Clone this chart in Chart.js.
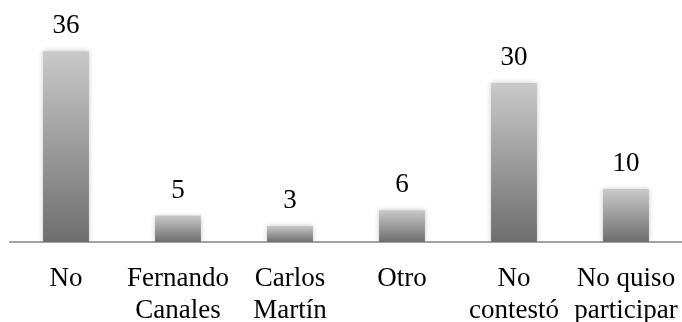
<!DOCTYPE html>
<html>
<head>
<meta charset="utf-8">
<script src="https://cdn.jsdelivr.net/npm/chart.js@4/dist/chart.umd.min.js"></script>
<style>
  html, body { margin: 0; padding: 0; background: #fff; }
  #wrap { width: 682px; height: 322px; }
</style>
</head>
<body>
<div id="wrap"><canvas id="c" width="682" height="322"></canvas></div>
<script>
// Categories (multi-line where the label wraps) and counts
const categories = [
  'No',
  ['Fernando', 'Canales'],
  ['Carlos', 'Martín'],
  'Otro',
  ['No', 'contestó'],
  ['No quiso', 'participar']
];
const counts = [36, 5, 3, 6, 30, 10];

const FONT = '"Liberation Serif", "Times New Roman", serif';
const FONT_SIZE = 27;

// Vertical grey gradient spanning each bar from its top to the baseline
function barGradient(ctx) {
  const chart = ctx.chart;
  const y = chart.scales.y;
  if (!y || ctx.raw == null) return '#999';
  const top = y.getPixelForValue(ctx.raw);
  const base = y.getPixelForValue(0);
  if (!isFinite(top) || !isFinite(base) || top === base) return '#999';
  const g = chart.ctx.createLinearGradient(0, top, 0, base);
  g.addColorStop(0, '#c9c9c9');
  g.addColorStop(1, '#6e6e6e');
  return g;
}

// Soft shadow around the bars
const barShadow = {
  id: 'barShadow',
  beforeDatasetsDraw(chart) {
    const c = chart.ctx;
    c.save();
    c.shadowColor = 'rgba(0,0,0,0.22)';
    c.shadowBlur = 5;
    c.shadowOffsetX = 0;
    c.shadowOffsetY = 0;
  },
  afterDatasetsDraw(chart) {
    chart.ctx.restore();
  }
};

// Count written above each bar
const valueLabels = {
  id: 'valueLabels',
  afterDatasetsDraw(chart) {
    const c = chart.ctx;
    const meta = chart.getDatasetMeta(0);
    c.save();
    c.font = FONT_SIZE + 'px ' + FONT;
    c.fillStyle = '#000';
    c.textAlign = 'center';
    c.textBaseline = 'alphabetic';
    meta.data.forEach((bar, i) => {
      c.fillText(String(counts[i]), bar.x, bar.y - 18);
    });
    c.restore();
  }
};

new Chart(document.getElementById('c'), {
  type: 'bar',
  data: {
    labels: categories,
    datasets: [{
      data: counts,
      backgroundColor: barGradient,
      borderWidth: 0,
      categoryPercentage: 1,
      barPercentage: 0.41
    }]
  },
  options: {
    responsive: false,
    animation: false,
    events: [],
    layout: { padding: { top: 30, left: 10, right: 0, bottom: 0 } },
    plugins: {
      legend: { display: false },
      tooltip: { enabled: false }
    },
    scales: {
      x: {
        grid: { display: false, drawTicks: false },
        border: { display: true, color: '#a3a3a3', width: 2 },
        ticks: {
          color: '#000',
          font: { family: FONT, size: FONT_SIZE, lineHeight: 32 / FONT_SIZE },
          padding: 21,
          maxRotation: 0,
          autoSkip: false
        },
        afterFit(scale) {
          // fixed axis band; labels may run to the canvas edge
          scale.height = 80;
          scale.paddingLeft = 0;
          scale.paddingRight = 0;
        }
      },
      y: {
        display: false,
        min: 0,
        max: 40
      }
    }
  },
  plugins: [barShadow, valueLabels]
});
</script>
</body>
</html>
